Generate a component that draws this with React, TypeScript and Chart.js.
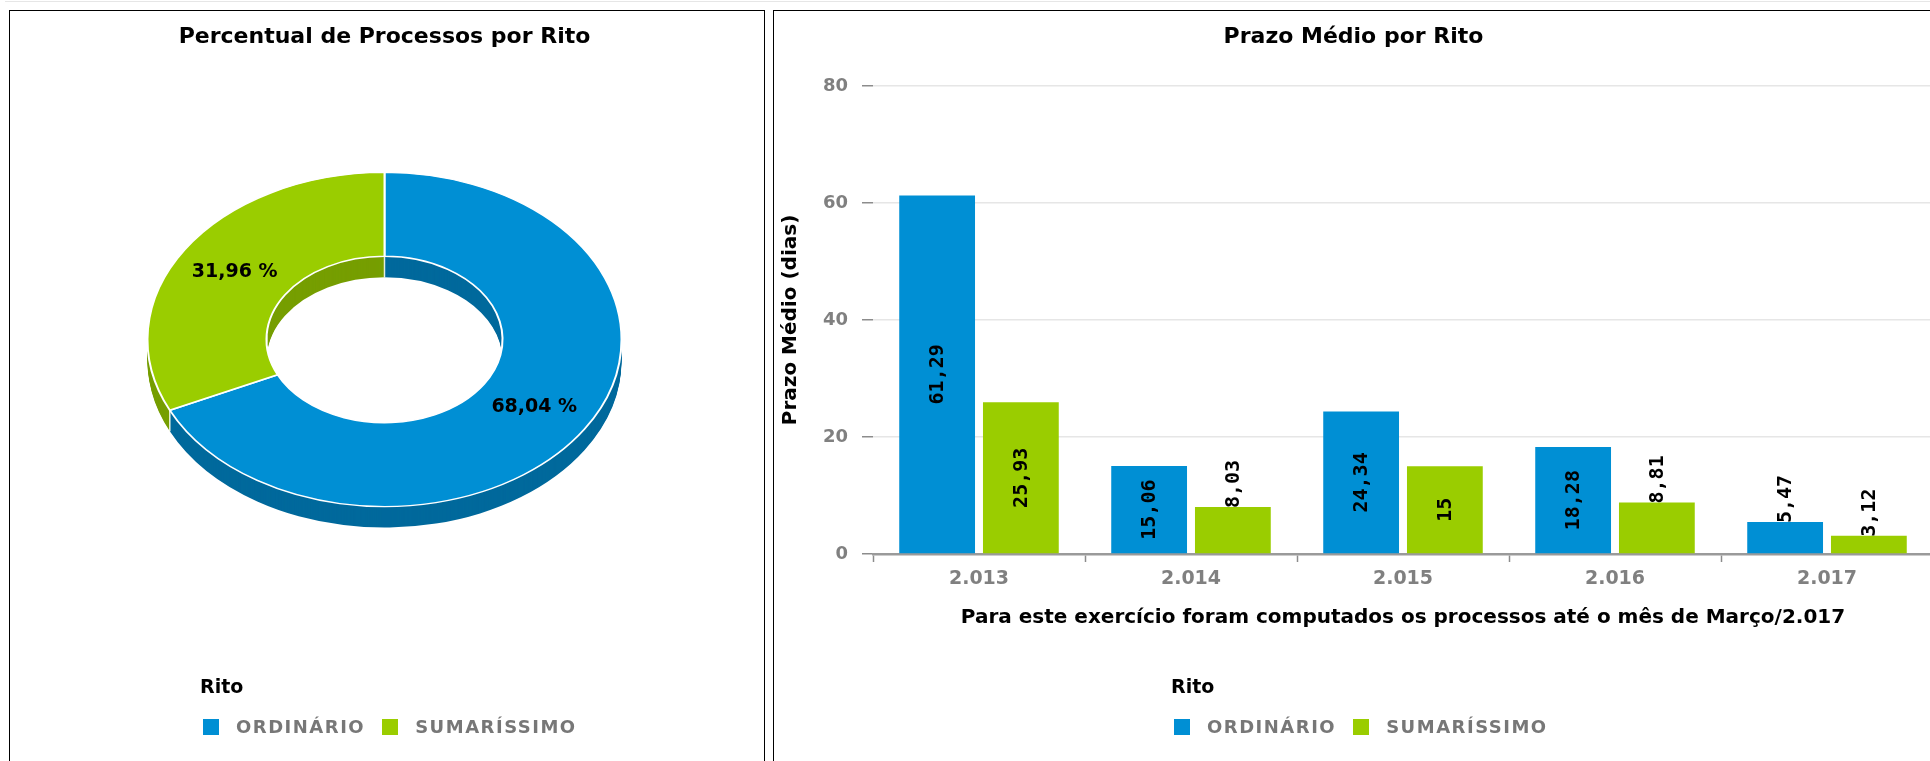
import React, { useEffect, useRef } from 'react';
import { Chart, registerables } from 'chart.js';

Chart.register(...registerables);

// ---------- data ----------
const riteLabels = ['ORDINÁRIO', 'SUMARÍSSIMO'];
const ritePercent = [68.04, 31.96];

const years = ['2.013', '2.014', '2.015', '2.016', '2.017'];
const prazoOrdinario = [61.29, 15.06, 24.34, 18.28, 5.47];
const prazoSumarissimo = [25.93, 8.03, 15, 8.81, 3.12];
const yTickValues = [0, 20, 40, 60, 80];

const pieTitle = 'Percentual de Processos por Rito';
const barTitle = 'Prazo Médio por Rito';
const yAxisTitle = 'Prazo Médio (dias)';
const xAxisTitle = 'Para este exercício foram computados os processos até o mês de Março/2.017';
const legendTitle = 'Rito';

// ---------- styles ----------
const FACE = ['#008fd4', '#9acd00'];
const SIDE = ['#00699c', '#769e00'];
const SANS = '"DejaVu Sans", Verdana, sans-serif';
const MONO = '"DejaVu Sans Mono", monospace';

const fmtNum = (v: number) => String(v).replace('.', ',');
const fmtPct = (v: number) => v.toFixed(2).replace('.', ',') + ' %';

function PieChart() {
  const ref = useRef<HTMLCanvasElement>(null);
  useEffect(() => {
    const K = 0.705;
    const DEPTH = 21;
    const applyEllipse = (ctx: CanvasRenderingContext2D, cx: number, cy: number) => {
      ctx.translate(cx, cy);
      ctx.scale(1, K);
      ctx.translate(-cx, -cy);
    };
    const pie3d = {
      id: 'pie3d',
      beforeDatasetsDraw(chart: any) {
        const ctx: CanvasRenderingContext2D = chart.ctx;
        const arcs: any[] = chart.getDatasetMeta(0).data;
        if (!arcs.length) return;
        const cx = arcs[0].x;
        const cy = arcs[0].y;
        for (let d = DEPTH; d >= 1; d--) {
          ctx.save();
          ctx.translate(0, d);
          applyEllipse(ctx, cx, cy);
          arcs.forEach((arc, i) => {
            const o = arc.options;
            arc.options = { ...o, backgroundColor: SIDE[i], borderWidth: 0 };
            arc.draw(ctx);
            arc.options = o;
          });
          ctx.restore();
        }
        // slice edges on the side walls
        ctx.save();
        ctx.strokeStyle = 'rgba(255,255,255,0.85)';
        ctx.lineWidth = 1.5;
        arcs.forEach((arc) => {
          const a = arc.startAngle;
          const s = Math.sin(a);
          const c = Math.cos(a);
          if (s > 0.05) {
            const x = cx + c * arc.outerRadius;
            const y = cy + s * arc.outerRadius * K;
            ctx.beginPath();
            ctx.moveTo(x, y);
            ctx.lineTo(x, y + DEPTH);
            ctx.stroke();
          }
          if (s < -0.05) {
            const x = cx + c * arc.innerRadius;
            const y = cy + s * arc.innerRadius * K;
            ctx.beginPath();
            ctx.moveTo(x, y);
            ctx.lineTo(x, y + DEPTH);
            ctx.stroke();
          }
        });
        ctx.restore();
        ctx.save();
        applyEllipse(ctx, cx, cy);
      },
      afterDatasetsDraw(chart: any) {
        const ctx: CanvasRenderingContext2D = chart.ctx;
        ctx.restore();
        const arcs: any[] = chart.getDatasetMeta(0).data;
        ctx.save();
        ctx.font = `bold 19px ${SANS}`;
        ctx.fillStyle = '#000';
        ctx.textAlign = 'center';
        ctx.textBaseline = 'middle';
        arcs.forEach((arc, i) => {
          const mid = (arc.startAngle + arc.endAngle) / 2;
          const r = (arc.innerRadius + arc.outerRadius) / 2;
          const x = arc.x + Math.cos(mid) * r;
          const y = arc.y + Math.sin(mid) * r * K;
          ctx.fillText(fmtPct(ritePercent[i]), x, y);
        });
        ctx.restore();
      },
    };
    const chart = new Chart(ref.current!, {
      type: 'doughnut',
      data: {
        labels: riteLabels,
        datasets: [
          {
            data: ritePercent,
            backgroundColor: FACE,
            borderColor: '#ffffff',
            borderWidth: 2,
          },
        ],
      },
      options: {
        animation: false,
        responsive: false,
        events: [],
        radius: 237,
        cutout: '49.8%',
        layout: { padding: { left: 137.5, right: 141.5, top: 0, bottom: 174.5 } },
        plugins: {
          legend: { display: false },
          tooltip: { enabled: false },
          title: {
            display: true,
            text: pieTitle,
            color: '#000',
            font: { family: SANS, size: 22, weight: 'bold' },
            padding: { top: 12.8, bottom: 52.3 },
          },
        },
      } as any,
      plugins: [pie3d],
    });
    return () => chart.destroy();
  }, []);
  return (
    <canvas
      ref={ref}
      width={753}
      height={740}
      style={{ position: 'absolute', left: 0, top: 0, width: 753, height: 740 }}
    />
  );
}

function BarChart() {
  const ref = useRef<HTMLCanvasElement>(null);
  useEffect(() => {
    const barLabels = {
      id: 'barLabels',
      afterDatasetsDraw(chart: any) {
        const ctx: CanvasRenderingContext2D = chart.ctx;
        ctx.save();
        ctx.font = `bold 20px ${MONO}`;
        ctx.fillStyle = '#000';
        ctx.textAlign = 'center';
        ctx.textBaseline = 'middle';
        chart.data.datasets.forEach((ds: any, di: number) => {
          const meta = chart.getDatasetMeta(di);
          meta.data.forEach((bar: any, i: number) => {
            const txt = fmtNum(ds.data[i]);
            const w = ctx.measureText(txt).width;
            const { x, y, base } = bar.getProps(['x', 'y', 'base'], true);
            const h = base - y;
            const c = w + 4 <= h ? (y + base) / 2 : y - w / 2 + 1;
            ctx.save();
            ctx.translate(x + 1, c);
            ctx.rotate(-Math.PI / 2);
            ctx.fillText(txt, 0, 0);
            ctx.restore();
          });
        });
        ctx.restore();
      },
    };
    const tickFont = { family: SANS, size: 19, weight: 'bold' as const };
    const chart = new Chart(ref.current!, {
      type: 'bar',
      data: {
        labels: years,
        datasets: [
          { label: riteLabels[0], data: prazoOrdinario, backgroundColor: FACE[0], borderWidth: 0 },
          { label: riteLabels[1], data: prazoSumarissimo, backgroundColor: FACE[1], borderWidth: 0 },
        ],
      },
      options: {
        animation: false,
        responsive: false,
        events: [],
        categoryPercentage: 0.79,
        barPercentage: 0.905,
        layout: { padding: { left: 0, right: 4, top: 0, bottom: 81 } },
        plugins: {
          legend: { display: false },
          tooltip: { enabled: false },
          title: {
            display: true,
            text: barTitle,
            color: '#000',
            font: { family: SANS, size: 22, weight: 'bold' },
            padding: { top: 12.8, bottom: 35.8 },
          },
        },
        scales: {
          x: {
            offset: true,
            grid: {
              display: true,
              drawOnChartArea: false,
              drawTicks: true,
              tickLength: 8,
              tickColor: '#8c8c8c',
              tickWidth: 1.5,
              offset: true,
            },
            border: { display: true, color: '#9a9a9a', width: 2.5 },
            ticks: { color: '#808080', font: tickFont, padding: 6 },
            title: {
              display: true,
              text: xAxisTitle,
              color: '#000',
              font: { family: SANS, size: 20, weight: 'bold' },
              padding: { top: 0, bottom: 0 },
            },
            afterFit: (s: any) => {
              s.height = 76;
            },
          },
          y: {
            min: yTickValues[0],
            max: yTickValues[yTickValues.length - 1],
            afterBuildTicks: (s: any) => {
              s.ticks = yTickValues.map((value) => ({ value }));
            },
            grid: {
              color: '#e6e6e6',
              lineWidth: 1.5,
              tickColor: '#8c8c8c',
              tickWidth: 1.5,
              tickLength: 11,
            },
            border: { display: false },
            ticks: { color: '#808080', font: { family: SANS, size: 18, weight: 'bold' }, padding: 14 },
            title: {
              display: true,
              text: yAxisTitle,
              color: '#000',
              font: { family: SANS, size: 20, weight: 'bold' },
              padding: { top: 5, bottom: 0 },
            },
            afterFit: (s: any) => {
              s.width = 99;
            },
          },
        },
      } as any,
      plugins: [barLabels],
    });
    return () => chart.destroy();
  }, []);
  return (
    <canvas
      ref={ref}
      width={1163}
      height={700}
      style={{ position: 'absolute', left: 0, top: 0, width: 1163, height: 700 }}
    />
  );
}

function Legend({ left, top }: { left: number; top: number }) {
  return (
    <div style={{ position: 'absolute', left, top, fontFamily: SANS, whiteSpace: 'nowrap' }}>
      <div style={{ fontWeight: 'bold', fontSize: 19, color: '#000', lineHeight: '22px', marginLeft: -3 }}>
        {legendTitle}
      </div>
      <div style={{ display: 'flex', alignItems: 'center', marginTop: 19, height: 22 }}>
        {riteLabels.map((l, i) => (
          <div key={l} style={{ display: 'flex', alignItems: 'center', marginRight: 17 }}>
            <span style={{ display: 'inline-block', width: 16, height: 16, background: FACE[i], marginRight: 17 }} />
            <span style={{ fontWeight: 'bold', fontSize: 18, color: '#777', letterSpacing: '1.5px', lineHeight: '22px' }}>
              {l}
            </span>
          </div>
        ))}
      </div>
    </div>
  );
}

export default function App() {
  return (
    <div
      style={{
        position: 'absolute',
        left: 0,
        top: 0,
        width: 1930,
        height: 761,
        overflow: 'hidden',
        background: '#fff',
      }}
    >
      <div style={{ position: 'absolute', left: 5, top: 1, width: 1925, height: 1, background: '#e6e6e6' }} />
      <div
        style={{
          position: 'absolute',
          left: 9,
          top: 10,
          width: 756,
          height: 800,
          boxSizing: 'border-box',
          border: '1px solid #000',
          overflow: 'hidden',
        }}
      >
        <PieChart />
      </div>
      <div
        style={{
          position: 'absolute',
          left: 773,
          top: 10,
          width: 1165,
          height: 800,
          boxSizing: 'border-box',
          border: '1px solid #000',
          overflow: 'hidden',
        }}
      >
        <BarChart />
      </div>
      <Legend left={203} top={675} />
      <Legend left={1174} top={675} />
    </div>
  );
}
